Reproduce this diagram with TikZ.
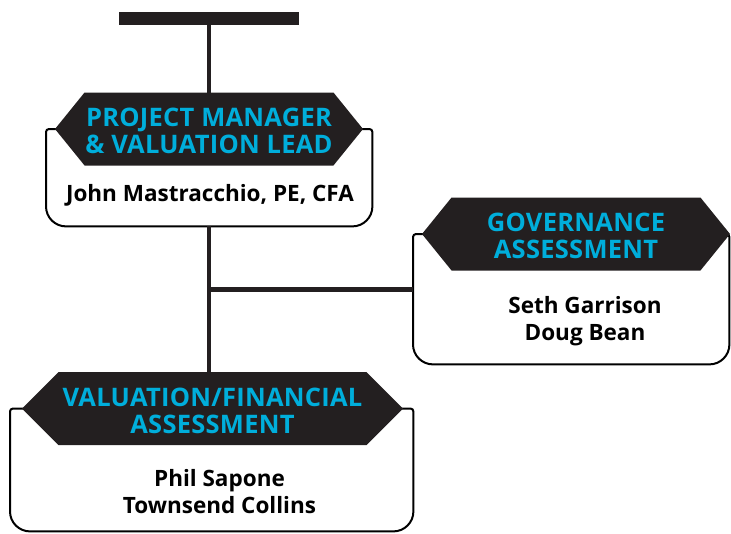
\documentclass[tikz,border=0pt]{standalone}
\usepackage{fontspec}
\setmainfont{Open Sans}
\newfontfamily\headfont[LetterSpace=1]{Open Sans}
\usetikzlibrary{shapes.symbols}
\definecolor{inkdark}{HTML}{231F20}
\definecolor{titlecyan}{HTML}{00AEDB}

\begin{document}
\begin{tikzpicture}[x=1pt,y=-1pt,
    every node/.style={font=\bfseries},
    link/.style={draw=inkdark,line width=4.5pt},
    boxline/.style={draw=black,line width=2pt},
    boxarea/.style={inner sep=0pt,anchor=north west},
    hexhead/.style={signal,signal to=east and west,fill=inkdark,text=titlecyan,
        minimum height=73pt,inner sep=0pt,align=center,
        text height=49.5pt,text depth=0pt,
        font=\headfont\fontsize{25.5}{27}\selectfont\bfseries},
    people/.style={align=center,font=\fontsize{22.5}{27}\selectfont\bfseries}]
    \useasboundingbox (0,0) rectangle (731,533);

    % -------------------------
    % top bar
    % -------------------------
    \node[fill=inkdark,minimum width=180pt,minimum height=13pt,inner sep=0pt] (topbar) at (209,18.5) {};

    % -------------------------
    % box areas (outlines)
    % -------------------------
    \node[boxarea,minimum width=326pt,minimum height=97pt] (pmbox) at (46,129) {};
    \node[boxarea,minimum width=316pt,minimum height=130pt] (govbox) at (413,234) {};
    \node[boxarea,minimum width=403pt,minimum height=122.5pt] (vfbox) at (10,408.5) {};

    \foreach \b in {pmbox,govbox,vfbox}
      \draw[boxline] (\b.north) [rounded corners=3pt] -- (\b.north west)
        [rounded corners=20pt] -- (\b.south west) -- (\b.south east)
        [rounded corners=3pt] -- (\b.north east) -- cycle;

    % connectors
    \path (pmbox.south) ++(0,63) coordinate (fork);
    \draw[link] (topbar.south) -- (topbar.south |- pmbox.north);
    \draw[link] (pmbox.south) -- (pmbox.south |- vfbox.north);
    \draw[link] (fork) -- (fork -| govbox.west);

    % -------------------------
    % headings
    % -------------------------
    \node[hexhead,minimum width=308pt,signal pointer angle=102] (pm) at (209,129) {PROJECT MANAGER\\\& VALUATION LEAD};
    \node[hexhead,minimum width=308pt,signal pointer angle=102] (gov) at (576,234) {GOVERNANCE\\ASSESSMENT};
    \node[hexhead,minimum width=381pt,signal pointer angle=90] (vf) at (212.5,408.5) {VALUATION/FINANCIAL\\ASSESSMENT};

    % names
    \node[people] (pmname) at (210,195) {John Mastracchio, PE, CFA};
    \node[people] (govnames) at (585,321) {Seth Garrison\\Doug Bean};
    \node[people] (vfnames) at (219.5,492) {Phil Sapone\\Townsend Collins};
\end{tikzpicture}
\end{document}
